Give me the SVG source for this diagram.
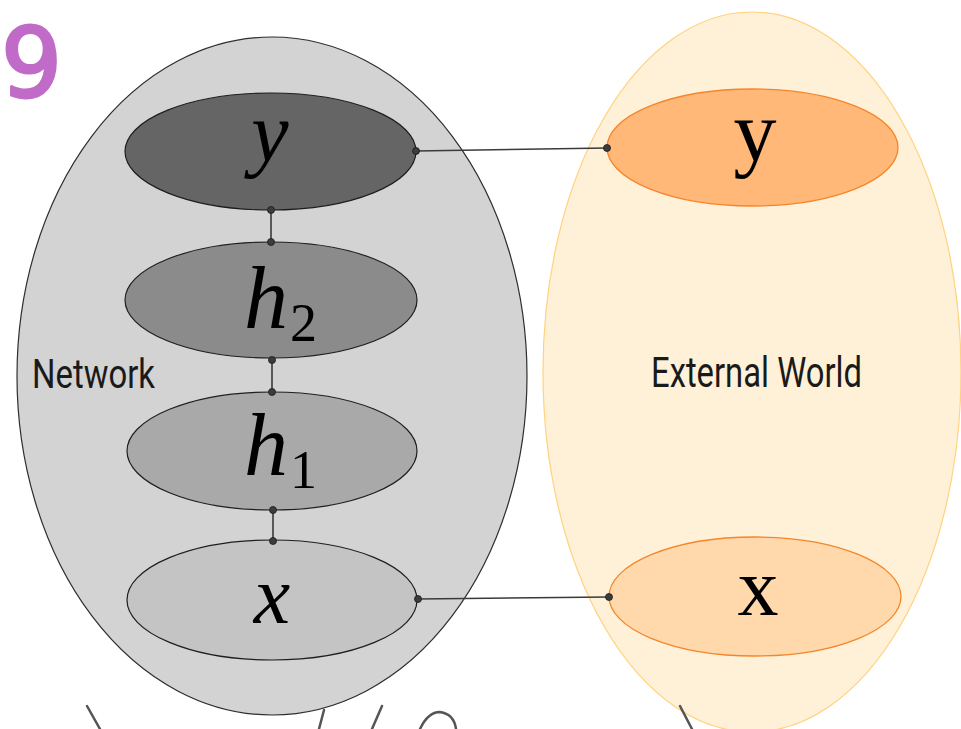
<svg xmlns="http://www.w3.org/2000/svg" width="961" height="729" viewBox="0 0 961 729">
  <style>
    .net { fill: #d3d3d3; stroke: #2e2e2e; stroke-width: 1.2; }
    .ext { fill: #fff1d7; stroke: #ffd27e; stroke-width: 1.2; }
    .node { stroke: #1e1e1e; stroke-width: 1.2; }
    .onode { stroke: #f5852a; stroke-width: 1.3; }
    .math { font-family: "Liberation Serif", "DejaVu Serif", serif; font-style: italic; fill: #000; }
    .up { font-family: "Liberation Serif", "DejaVu Serif", serif; fill: #000; }
    .lbl { font-family: "Roboto", "Liberation Sans", sans-serif; fill: #1a1a1a; }
    .conn { stroke: #3a3a3a; stroke-width: 1.6; fill: none; }
    .dot { fill: #3c3c3c; stroke: #1a1a1a; stroke-width: 0.8; }
    .scr { stroke: #555; stroke-width: 2.5; fill: none; stroke-linecap: round; }
  </style>

  <rect width="961" height="729" fill="#ffffff"/>

  <g id="network-container">
    <ellipse class="net" cx="272" cy="376" rx="255" ry="339"/>
    <text class="lbl" x="32" y="388" font-size="40" textLength="123" lengthAdjust="spacingAndGlyphs">Network</text>
  </g>

  <g id="external-world">
    <ellipse class="ext" cx="752" cy="372" rx="209" ry="360"/>
    <text class="lbl" x="651" y="387" font-size="42" textLength="211" lengthAdjust="spacingAndGlyphs">External World</text>
  </g>

  <g id="node-y">
    <ellipse class="node" cx="270.5" cy="151.5" rx="145.5" ry="58.5" fill="#656565"/>
    <text class="math" x="270" y="161" font-size="84" text-anchor="middle">y</text>
  </g>

  <g id="node-h2">
    <ellipse class="node" cx="271" cy="300" rx="146" ry="58" fill="#8b8b8b"/>
    <text class="math" x="244" y="328" font-size="88">h</text>
    <text class="up" x="290" y="341" font-size="54">2</text>
  </g>

  <g id="node-h1">
    <ellipse class="node" cx="272" cy="451" rx="145" ry="59" fill="#a9a9a9"/>
    <text class="math" x="244" y="475" font-size="88">h</text>
    <text class="up" x="290" y="488" font-size="54">1</text>
  </g>

  <g id="node-x">
    <ellipse class="node" cx="272" cy="600" rx="145" ry="60" fill="#c4c4c4"/>
    <text class="math" x="272" y="623" font-size="82" text-anchor="middle">x</text>
  </g>

  <g id="ext-y">
    <ellipse class="onode" cx="752.5" cy="147.5" rx="145.5" ry="58.5" fill="#ffb878"/>
    <text class="up" x="755" y="160" font-size="86" text-anchor="middle">y</text>
  </g>

  <g id="ext-x">
    <ellipse class="onode" cx="755" cy="596.5" rx="146" ry="59.5" fill="#ffd9ab"/>
    <text class="up" x="758" y="615" font-size="82" text-anchor="middle">x</text>
  </g>

  <g id="connectors">
    <line class="conn" x1="416" y1="151" x2="607" y2="148"/>
    <line class="conn" x1="418" y1="599" x2="609" y2="597"/>
    <line class="conn" x1="271" y1="210" x2="271" y2="242"/>
    <line class="conn" x1="272" y1="360" x2="272" y2="392"/>
    <line class="conn" x1="273" y1="510" x2="273" y2="541"/>
    <circle class="dot" cx="416" cy="151" r="3.5"/>
    <circle class="dot" cx="607" cy="148" r="3.5"/>
    <circle class="dot" cx="418" cy="599" r="3.5"/>
    <circle class="dot" cx="609" cy="597" r="3.5"/>
    <circle class="dot" cx="271" cy="210" r="3.5"/>
    <circle class="dot" cx="271" cy="242" r="3.5"/>
    <circle class="dot" cx="272" cy="360" r="3.5"/>
    <circle class="dot" cx="272" cy="392" r="3.5"/>
    <circle class="dot" cx="273" cy="510" r="3.5"/>
    <circle class="dot" cx="273" cy="541" r="3.5"/>
  </g>

  <g id="scribbles">
    <text x="1" y="97" font-size="96" font-family="DejaVu Sans, sans-serif" fill="#bb5cc4" stroke="#bb5cc4" stroke-width="3" stroke-linejoin="round" opacity="0.9">9</text>
    <path class="scr" d="M87 706 L100 729"/>
    <path class="scr" d="M324 710 L319 729" stroke-width="4" stroke="#222"/>
    <path class="scr" d="M382 706 L372 729"/>
    <path class="scr" d="M420 729 Q428 712 440 712 Q454 714 456 729"/>
    <path class="scr" d="M680 706 L692 729"/>
  </g>
</svg>
